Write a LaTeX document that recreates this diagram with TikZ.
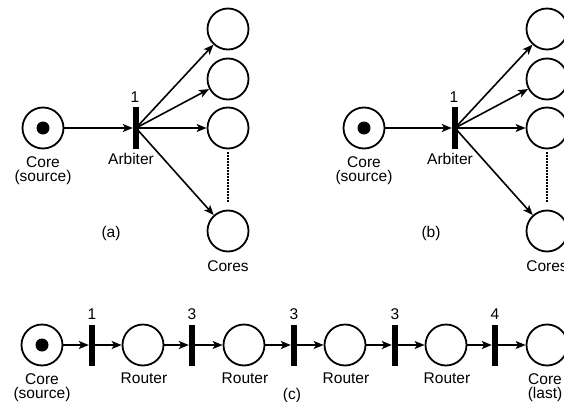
\documentclass[tikz,border=0pt]{standalone}
\usepackage{fontspec}
\setmainfont{Liberation Sans}
\usetikzlibrary{arrows.meta}
\begin{document}
\begin{tikzpicture}[x=1pt,y=-1pt,
  place/.style={circle,draw,line width=1.8pt,minimum size=41pt,inner sep=0pt},
  tokn/.style={circle,fill,minimum size=13pt,inner sep=0pt},
  trans/.style={rectangle,fill,minimum width=6pt,minimum height=41pt,inner sep=0pt},
  lbl/.style={font=\fontsize{15.5}{14}\selectfont,inner sep=0pt,align=center},
  arr/.style={line width=1.6pt,-{Stealth[length=10pt,width=8pt,inset=2.5pt]}},
  dots/.style={line width=1.5pt,dash pattern=on 1.5pt off 1.5pt},
]
\clip (0,0) rectangle (564,401);
% ---------- (a)
\node[place] (asrc) at (43,128) {};
\node[tokn] (atok) at (43,128) {};
\node[trans] (abar) at (136,128) {};
\node[place] (ac1) at (228,29) {};
\node[place] (ac2) at (228,79) {};
\node[place] (ac3) at (228,128) {};
\node[place] (ac4) at (228,231) {};
\node[lbl] (aw) at (135,97.5) {1};
\node[lbl,anchor=north] (aarb) at (131,153) {Arbiter};
\node[lbl,anchor=north] (asrcl) at (43,156) {Core\\(source)};
\node[lbl] (acores) at (228,266) {Cores};
\node[lbl] (acap) at (111,233) {(a)};
\draw[arr] (asrc) -- (abar.west);
\draw[arr] (abar.center) -- (ac1);
\draw[arr] (abar.center) -- (ac2);
\draw[arr] (abar.center) -- (ac3);
\draw[arr] (abar.center) -- (ac4);
\draw[dots,shorten <=3pt,shorten >=7pt] (ac3) -- (ac4);
% ---------- (b)
\node[place] (bsrc) at (364,128) {};
\node[tokn] (btok) at (364,128) {};
\node[trans] (bbar) at (455,128) {};
\node[place] (bc1) at (547,29) {};
\node[place] (bc2) at (547,79) {};
\node[place] (bc3) at (547,128) {};
\node[place] (bc4) at (547,231) {};
\node[lbl] (bw) at (454,97.5) {1};
\node[lbl,anchor=north] (barb) at (450,153) {Arbiter};
\node[lbl,anchor=north] (bsrcl) at (364,156) {Core\\(source)};
\node[lbl] (bcores) at (547,266) {Cores};
\node[lbl] (bcap) at (431,233) {(b)};
\draw[arr] (bsrc) -- (bbar.west);
\draw[arr] (bbar.center) -- (bc1);
\draw[arr] (bbar.center) -- (bc2);
\draw[arr] (bbar.center) -- (bc3);
\draw[arr] (bbar.center) -- (bc4);
\draw[dots,shorten <=3pt,shorten >=7pt] (bc3) -- (bc4);
% ---------- (c)
\node[place] (c0) at (42,345) {};
\node[tokn] (ctok) at (42,345) {};
\node[place] (c1) at (143,345) {};
\node[place] (c2) at (244,345) {};
\node[place] (c3) at (345,345) {};
\node[place] (c4) at (446,345) {};
\node[place] (c5) at (547,345) {};
\node[trans] (t1) at (92,345) {};
\node[trans] (t2) at (192,345) {};
\node[trans] (t3) at (294,345) {};
\node[trans] (t4) at (395,345) {};
\node[trans] (t5) at (495,345) {};
\node[lbl] (w1) at (92,314.5) {1};
\node[lbl] (w2) at (192,314.5) {3};
\node[lbl] (w3) at (294,314.5) {3};
\node[lbl] (w4) at (395,314.5) {3};
\node[lbl] (w5) at (495,314.5) {4};
\node[lbl,anchor=north] (l0) at (42,373) {Core\\(source)};
\node[lbl,anchor=north] (l1) at (144,373) {Router};
\node[lbl,anchor=north] (l2) at (245,373) {Router};
\node[lbl,anchor=north] (l3) at (346,373) {Router};
\node[lbl,anchor=north] (l4) at (447,373) {Router};
\node[lbl,anchor=north] (l5) at (545,373) {Core\\(last)};
\node[lbl] (ccap) at (292,395) {(c)};
\foreach \p/\t/\n in {c0/t1/c1,c1/t2/c2,c2/t3/c3,c3/t4/c4,c4/t5/c5}{
  \draw[arr] (\p) -- (\t.west);
  \draw[arr] (\t.center) -- (\n);
}
\end{tikzpicture}
\end{document}
